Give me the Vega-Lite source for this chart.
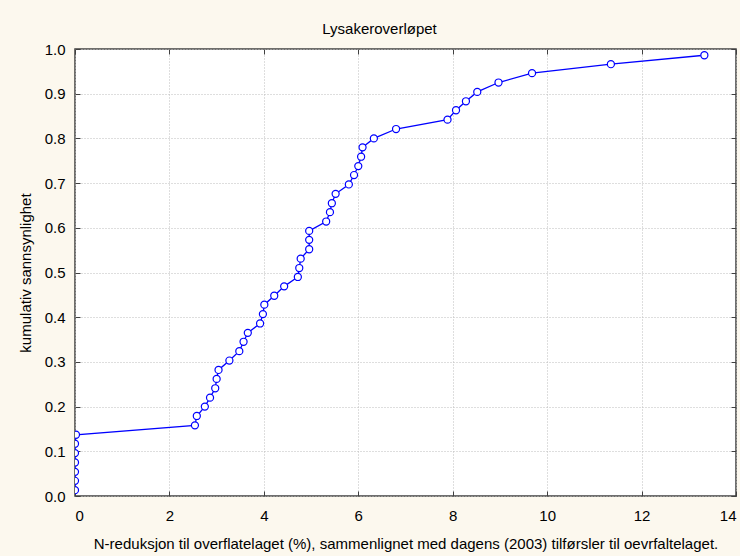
{
  "$schema": "https://vega.github.io/schema/vega-lite/v6.json",
  "width": 661,
  "height": 447,
  "autosize": "none",
  "padding": {"left": 75, "top": 49, "right": 4, "bottom": 60},
  "background": "#FCF8EE",
  "title": {"text": "Lysakeroverløpet", "font": "Liberation Sans", "fontSize": 15, "fontWeight": "normal", "color": "#000000", "frame": "group", "anchor": "middle", "baseline": "alphabetic", "dx": -26, "dy": 19, "offset": 12},
  "config": {
    "view": {"fill": "#FFFFFF", "stroke": "#404040", "strokeWidth": 1.5},
    "axis": {
      "labelFont": "Liberation Sans", "labelFontSize": 15, "labelColor": "#000000",
      "titleFont": "Liberation Sans", "titleFontSize": 15, "titleFontWeight": "normal", "titleColor": "#000000",
      "domain": false, "tickColor": "#404040", "tickSize": -5, "tickWidth": 1,
      "gridColor": "#BDBDBD", "gridDash": [1, 2], "gridWidth": 1
    }
  },
  "data": {"values": [
    {"i": 1, "x": 0, "p": 0.013},
    {"i": 2, "x": 0, "p": 0.034},
    {"i": 3, "x": 0, "p": 0.054},
    {"i": 4, "x": 0, "p": 0.075},
    {"i": 5, "x": 0, "p": 0.096},
    {"i": 6, "x": 0, "p": 0.117},
    {"i": 7, "x": 0.02, "p": 0.137},
    {"i": 8, "x": 2.54, "p": 0.158},
    {"i": 9, "x": 2.58, "p": 0.179},
    {"i": 10, "x": 2.75, "p": 0.2},
    {"i": 11, "x": 2.86, "p": 0.22},
    {"i": 12, "x": 2.97, "p": 0.241},
    {"i": 13, "x": 3.0, "p": 0.262},
    {"i": 14, "x": 3.04, "p": 0.282},
    {"i": 15, "x": 3.27, "p": 0.303},
    {"i": 16, "x": 3.48, "p": 0.324},
    {"i": 17, "x": 3.57, "p": 0.345},
    {"i": 18, "x": 3.66, "p": 0.365},
    {"i": 19, "x": 3.92, "p": 0.386},
    {"i": 20, "x": 3.98, "p": 0.407},
    {"i": 21, "x": 4.01, "p": 0.428},
    {"i": 22, "x": 4.22, "p": 0.448},
    {"i": 23, "x": 4.43, "p": 0.469},
    {"i": 24, "x": 4.72, "p": 0.49},
    {"i": 25, "x": 4.75, "p": 0.51},
    {"i": 26, "x": 4.78, "p": 0.531},
    {"i": 27, "x": 4.96, "p": 0.552},
    {"i": 28, "x": 4.96, "p": 0.573},
    {"i": 29, "x": 4.96, "p": 0.593},
    {"i": 30, "x": 5.32, "p": 0.614},
    {"i": 31, "x": 5.4, "p": 0.635},
    {"i": 32, "x": 5.44, "p": 0.655},
    {"i": 33, "x": 5.52, "p": 0.676},
    {"i": 34, "x": 5.8, "p": 0.697},
    {"i": 35, "x": 5.91, "p": 0.718},
    {"i": 36, "x": 6.0, "p": 0.738},
    {"i": 37, "x": 6.06, "p": 0.759},
    {"i": 38, "x": 6.09, "p": 0.78},
    {"i": 39, "x": 6.33, "p": 0.8},
    {"i": 40, "x": 6.8, "p": 0.821},
    {"i": 41, "x": 7.89, "p": 0.842},
    {"i": 42, "x": 8.07, "p": 0.863},
    {"i": 43, "x": 8.28, "p": 0.883},
    {"i": 44, "x": 8.52, "p": 0.904},
    {"i": 45, "x": 8.97, "p": 0.925},
    {"i": 46, "x": 9.68, "p": 0.946},
    {"i": 47, "x": 11.35, "p": 0.966},
    {"i": 48, "x": 13.33, "p": 0.986}
  ]},
  "layer": [
    {
      "mark": {"type": "line", "color": "#0000FF", "strokeWidth": 1.3, "clip": true},
      "encoding": {
        "x": {"field": "x", "type": "quantitative", "scale": {"domain": [0, 14], "nice": false, "zero": false},
              "axis": {"orient": "bottom", "values": [0, 2, 4, 6, 8, 10, 12, 14], "grid": true, "labelPadding": 17,
                       "title": "N-reduksjon til overflatelaget (%), sammenlignet med dagens (2003) tilførsler til oevrfaltelaget.", "titlePadding": 13}},
        "y": {"field": "p", "type": "quantitative", "scale": {"domain": [0, 1], "nice": false},
              "axis": {"orient": "left", "values": [0, 0.1, 0.2, 0.3, 0.4, 0.5, 0.6, 0.7, 0.8, 0.9, 1.0], "format": ".1f", "grid": true, "labelPadding": 15,
                       "title": "kumulativ sannsynlighet", "titlePadding": 11}},
        "order": {"field": "i", "type": "quantitative"}
      }
    },
    {
      "mark": {"type": "point", "shape": "circle", "filled": true, "fill": "#FFFFFF", "stroke": "#0000FF", "strokeWidth": 1.2, "size": 50, "opacity": 1, "clip": true},
      "encoding": {
        "x": {"field": "x", "type": "quantitative", "axis": null},
        "y": {"field": "p", "type": "quantitative", "axis": null}
      }
    },
    {
      "mark": {"type": "point", "opacity": 0},
      "encoding": {
        "x": {"field": "x", "type": "quantitative", "axis": {"orient": "top", "values": [0, 2, 4, 6, 8, 10, 12, 14], "labels": false, "grid": false, "title": null}},
        "y": {"field": "p", "type": "quantitative", "axis": {"orient": "right", "values": [0, 0.1, 0.2, 0.3, 0.4, 0.5, 0.6, 0.7, 0.8, 0.9, 1.0], "labels": false, "grid": false, "title": null}}
      }
    }
  ],
  "resolve": {"axis": {"x": "independent", "y": "independent"}}
}
